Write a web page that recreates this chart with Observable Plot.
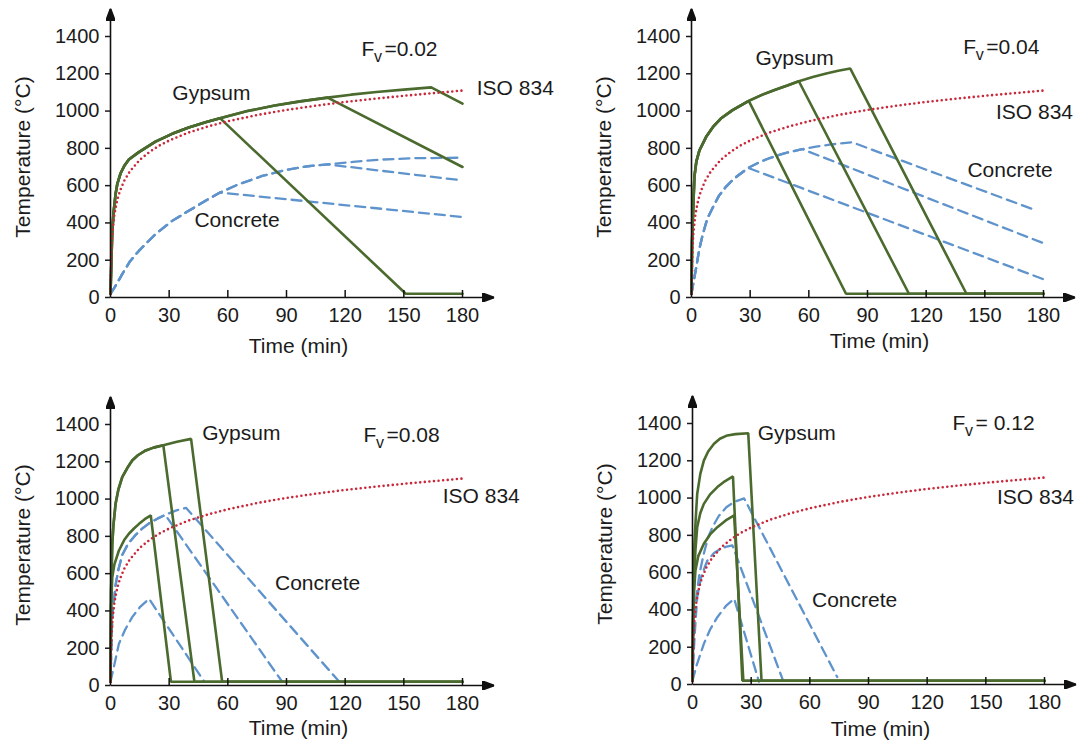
<!DOCTYPE html>
<html><head><meta charset="utf-8">
<script src="https://cdn.jsdelivr.net/npm/d3@7"></script>
<script src="https://cdn.jsdelivr.net/npm/@observablehq/plot@0.6"></script>
<style>
html,body{margin:0;padding:0;background:#fff;}
body{width:1081px;height:746px;overflow:hidden;position:relative;font-family:"Liberation Sans",Arial,sans-serif;}
.panel{position:absolute;width:540px;height:358px;}
.panel svg{max-width:none !important;display:block;}
</style></head><body>
<div id="p1" class="panel" style="left:0px;top:0px"></div>
<div id="p2" class="panel" style="left:581px;top:0px"></div>
<div id="p3" class="panel" style="left:0px;top:388px"></div>
<div id="p4" class="panel" style="left:582px;top:387px"></div>
<script>
// ---------- axes ----------
const xTicks = [0, 30, 60, 90, 120, 150, 180];
const yTicks = [0, 200, 400, 600, 800, 1000, 1200, 1400];
const xLabel = "Time (min)";
const yLabel = "Temperature (°C)";

// ---------- ISO 834 standard fire ----------
const iso834 = [[0,20],[0.5,261],[1,349],[2,445],[3,502],[4,544],[5,576],[7,626],[10,678],[15,739],[20,781],[25,815],[30,842],[40,885],[50,918],[60,945],[75,979],[90,1006],[105,1029],[120,1049],[135,1066],[150,1082],[165,1096],[180,1110]];

// ---------- Panel 1 : Fv = 0.02 ----------
const p1Fv = "=0.02";
const p1GypsumHeat = [[0,20],[0.85,340],[1.5,450],[2.6,555],[3.5,610],[5.1,665],[7,705],[9.4,740],[14.5,780],[23,836],[31.5,878],[40,912],[48.6,940],[56,962],[70,1000],[84,1030],[97,1052],[111,1072],[123,1088],[136,1102],[150,1115],[164,1127]];
const p1GypsumDrops = [[[56,962],[151,20],[180,20]], [[111,1072],[180,700]], [[164,1127],[180,1040]]];
const p1ConcreteHeat = [[0,20],[3,70],[6,125],[10,195],[14.5,250],[23,340],[31.5,411],[40,465],[48.6,519],[56,563],[65,605],[77.6,652],[90,685],[101,704],[111,714],[124,727],[137,739],[155,747],[180,750]];
const p1ConcreteDrops = [[[56,563],[180,432]], [[111,714],[180,628]], []];
const p1Labels = [["Gypsum",51.6,1057],["Concrete",64.7,376],["ISO 834",207,1084]];
const p1FvAt = [128.3,1298];

// ---------- Panel 2 : Fv = 0.04 ----------
const p2Fv = "=0.04";
const p2GypsumHeat = [[0,20],[0.3,300],[0.7,430],[1.5,650],[2.5,730],[4.1,790],[7.5,862],[11,915],[15,960],[21,1005],[29.3,1055],[36,1087],[42.5,1113],[49,1137],[54.9,1160],[62,1183],[68.9,1202],[75,1216],[81.2,1228]];
const p2GypsumDrops = [[[29.3,1055],[79,20],[180,20]], [[54.9,1160],[111.2,20],[180,20]], [[81.2,1228],[140.6,20],[180,20]]];
const p2ConcreteHeat = [[0,20],[1,80],[2.4,161],[4,260],[5.8,340],[8,420],[10.9,483],[14,545],[17.7,595],[22,640],[29,695],[35,727],[40,748],[47,772],[56.6,796],[63,808],[70.6,820],[82,833]];
const p2ConcreteDrops = [[[29,695],[180,98]], [[56.6,796],[180,291]], [[82,833],[176.3,467]]];
const p2Labels = [["Gypsum",52.7,1245],["Concrete",162.9,645],["ISO 834",175.4,958]];
const p2FvAt = [139,1307];

// ---------- Panel 3 : Fv = 0.08 ----------
const p3Fv = "=0.08";
const p3GypsumHighHeat = [[0,20],[0.3,500],[0.9,760],[1.5,860],[2.6,975],[4,1050],[6,1118],[8.5,1165],[11.1,1207],[14,1235],[18,1261],[22,1276],[27,1289],[34,1308],[41.2,1323]];
const p3GypsumLowHeat = [[0,20],[0.3,420],[0.9,581],[2,650],[4.3,724],[7,780],[9.4,814],[12,842],[14.6,867],[17.5,892],[20.6,912]];
const p3GypsumDrops = [[[27,1289],[42.9,20],[180,20]], [[41.2,1323],[57.1,20],[180,20]], [[20.6,912],[30.9,20],[180,20]]];
const p3ConcreteLowHeat = [[0,20],[1.5,90],[4.3,224],[7.5,300],[11.1,367],[15,420],[19.7,465]];
const p3ConcreteHighHeat = [[0,20],[0.5,250],[1,380],[2.6,538],[4,620],[6,700],[9,760],[12.9,808],[16,840],[19.7,870],[24,895],[28,915],[33,937],[38.6,953]];
const p3ConcreteDrops = [[[19.7,465],[48,20]], [[28,915],[87.8,20]], [[38.6,953],[117,20]]];
const p3Labels = [["Gypsum",66.9,1318],["Concrete",105.9,513],["ISO 834",189.6,978]];
const p3FvAt = [129.4,1305];

// ---------- Panel 4 : Fv = 0.12 ----------
const p4Fv = "= 0.12";
const p4GypsumTopHeat = [[0,20],[0.3,400],[0.6,600],[1,755],[1.6,880],[2.4,1022],[4,1130],[5.8,1201],[8,1250],[11,1291],[14,1318],[17.8,1336],[22,1343],[28.5,1348]];
const p4GypsumMidHeat = [[0,20],[0.3,350],[0.8,560],[1.5,720],[2.4,844],[4,920],[5.8,969],[9,1020],[12.7,1059],[16.5,1090],[20.7,1116]];
const p4GypsumLowHeat = [[0,20],[0.3,330],[0.8,500],[1.5,612],[3,690],[5.8,755],[9,805],[12.7,844],[17,880],[21.3,907]];
const p4GypsumDrops = [[[28.5,1348],[35.3,20],[180,20]], [[20.7,1116],[25.5,20],[180,20]], [[21.3,907],[26,20],[180,20]]];
const p4ConcreteTopHeat = [[0,20],[0.5,200],[1,330],[2,470],[3.5,590],[5.5,690],[8,790],[10.2,844],[13.5,905],[17.3,951],[21.5,980],[26.4,998]];
const p4ConcreteMidHeat = [[0,20],[0.5,150],[1.2,280],[2.4,468],[4.5,580],[7.6,665],[11,705],[14.5,728],[17.5,740],[20.4,746]];
const p4ConcreteLowHeat = [[0,20],[2,100],[5.8,218],[9,295],[12.7,361],[17,420],[21.3,460]];
const p4ConcreteDrops = [[[26.4,998],[74,40]], [[20.4,746],[46,30]], [[21.3,460],[34,15]]];
const p4Labels = [["Gypsum",53.3,1309],["Concrete",82.9,418],["ISO 834",175.4,969]];
const p4FvAt = [133,1366];

// ---------- styling ----------
const GREEN = "#4b6a2e", BLUE = "#5f93cc", RED = "#c8283a", INK = "#1b1b1b";
const FONT = "'Liberation Sans', Arial, Helvetica, sans-serif";

// heating curve up to the start of its decay branch, then the branch
function curve(heat, drop) {
  if (!drop.length) return heat;
  return heat.filter(p => p[0] < drop[0][0]).concat(drop);
}
function rows(list) {
  const out = [];
  list.forEach((pts, s) => pts.forEach(p => out.push({t: p[0], T: p[1], s})));
  return out;
}

const panels = [
  {el: "p1", fv: p1Fv, fvAt: p1FvAt, labels: p1Labels, timeDy: 49,
   gypsum: p1GypsumDrops.map(d => curve(p1GypsumHeat, d)),
   concrete: p1ConcreteDrops.map(d => curve(p1ConcreteHeat, d))},
  {el: "p2", fv: p2Fv, fvAt: p2FvAt, labels: p2Labels, timeDy: 44,
   gypsum: p2GypsumDrops.map(d => curve(p2GypsumHeat, d)),
   concrete: p2ConcreteDrops.map(d => curve(p2ConcreteHeat, d))},
  {el: "p3", fv: p3Fv, fvAt: p3FvAt, labels: p3Labels, timeDy: 43,
   gypsum: [curve(p3GypsumHighHeat, p3GypsumDrops[0]), curve(p3GypsumHighHeat, p3GypsumDrops[1]), curve(p3GypsumLowHeat, p3GypsumDrops[2])],
   concrete: [curve(p3ConcreteLowHeat, p3ConcreteDrops[0]), curve(p3ConcreteHighHeat, p3ConcreteDrops[1]), curve(p3ConcreteHighHeat, p3ConcreteDrops[2])]},
  {el: "p4", fv: p4Fv, fvAt: p4FvAt, labels: p4Labels, timeDy: 45,
   gypsum: [curve(p4GypsumTopHeat, p4GypsumDrops[0]), curve(p4GypsumMidHeat, p4GypsumDrops[1]), curve(p4GypsumLowHeat, p4GypsumDrops[2])],
   concrete: [curve(p4ConcreteTopHeat, p4ConcreteDrops[0]), curve(p4ConcreteMidHeat, p4ConcreteDrops[1]), curve(p4ConcreteLowHeat, p4ConcreteDrops[2])]}
];

// filled triangular arrow head
function triHead(color, context) {
  const doc = (context && context.document) || document;
  const ns = "http://www.w3.org/2000/svg";
  const m = doc.createElementNS(ns, "marker");
  m.setAttribute("viewBox", "-12 -4.5 12 9");
  m.setAttribute("markerWidth", "12");
  m.setAttribute("markerHeight", "9");
  m.setAttribute("markerUnits", "userSpaceOnUse");
  m.setAttribute("orient", "auto");
  m.setAttribute("refX", "0");
  m.setAttribute("refY", "0");
  const p = doc.createElementNS(ns, "path");
  p.setAttribute("d", "M-12,-4.5L0,0L-12,4.5Z");
  p.setAttribute("fill", color);
  m.appendChild(p);
  return m;
}

const xMax = xTicks[xTicks.length - 1], yMax = yTicks[yTicks.length - 1];

function makePanel(cfg, head) {
  const [fx, fy] = cfg.fvAt;
  return Plot.plot({
    width: 540, height: 358,
    marginLeft: 110, marginRight: 78, marginTop: 36, marginBottom: 61,
    x: {domain: [0, xMax], nice: false},
    y: {domain: [0, yMax], nice: false},
    style: {fontFamily: FONT, fontSize: "20px", color: INK, background: "transparent", overflow: "visible", maxWidth: "none"},
    marks: [
      // concrete (dashed blue)
      Plot.line(rows(cfg.concrete), {x: "t", y: "T", z: "s", stroke: BLUE, strokeWidth: 2.3, strokeDasharray: "10 6"}),
      // gypsum (solid green)
      Plot.line(rows(cfg.gypsum), {x: "t", y: "T", z: "s", stroke: GREEN, strokeWidth: 2.6, strokeLinejoin: "miter"}),
      // ISO 834 (dotted red)
      Plot.line(iso834, {x: d => d[0], y: d => d[1], stroke: RED, strokeWidth: 2.6, strokeLinecap: "round", strokeDasharray: "0 4.6"}),
      // axes with arrow heads
      Plot.link([0], {x1: 0, y1: 0, x2: xMax * 1.09, y2: 0, stroke: "#111", strokeWidth: 1.6, markerEnd: head}),
      Plot.link([0], {x1: 0, y1: 0, x2: 0, y2: yMax * 1.107, stroke: "#111", strokeWidth: 1.6, markerEnd: head}),
      Plot.ruleX(xTicks.slice(1), {y1: 0, y2: 0, insetTop: -7, stroke: "#111", strokeWidth: 1.5}),
      Plot.axisX({ticks: xTicks, tickSize: 0, tickPadding: 10, label: null, fontSize: 20, tickFormat: d => String(d)}),
      Plot.axisY({ticks: yTicks, tickSize: 5, tickPadding: 6, label: null, fontSize: 20, strokeWidth: 1.5, tickFormat: d => String(d)}),
      Plot.text([xLabel], {frameAnchor: "bottom", textAnchor: "middle", lineAnchor: "middle", dx: 12, dy: cfg.timeDy, fontSize: 21, fill: INK}),
      Plot.text([yLabel], {frameAnchor: "left", textAnchor: "middle", lineAnchor: "middle", dx: -87, dy: -10, rotate: -90, fontSize: 21, fill: INK}),
      // curve labels
      Plot.text(cfg.labels, {x: d => d[1], y: d => d[2], text: d => d[0], textAnchor: "middle", lineAnchor: "bottom", fontSize: 21, fill: INK}),
      // F_v annotation
      Plot.text([cfg.fv], {x: fx, y: fy, text: () => "F", textAnchor: "start", lineAnchor: "bottom", fontSize: 21, fill: INK}),
      Plot.text([cfg.fv], {x: fx, y: fy, text: () => "v", dx: 12.5, dy: 6, textAnchor: "start", lineAnchor: "bottom", fontSize: 16, fill: INK}),
      Plot.text([cfg.fv], {x: fx, y: fy, text: d => d, dx: 23, textAnchor: "start", lineAnchor: "bottom", fontSize: 21, fill: INK})
    ]
  });
}

for (const cfg of panels) {
  let node;
  try { node = makePanel(cfg, triHead); }
  catch (e) { node = makePanel(cfg, "arrow"); }
  document.getElementById(cfg.el).appendChild(node);
}
</script>
</body></html>
